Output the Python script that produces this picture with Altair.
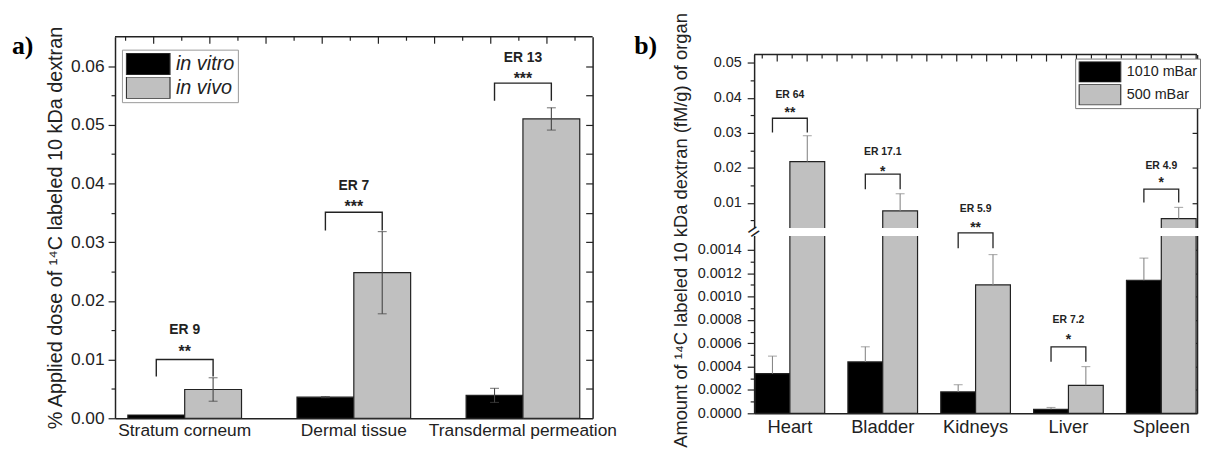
import altair as alt
import pandas as pd

# ---------------- panel a data ----------------
skin_layers = ["Stratum corneum", "Dermal tissue", "Transdermal permeation"]
conditions = ["in vitro", "in vivo"]
in_vitro_mean = [0.00055, 0.0036, 0.0039]
in_vitro_sd = [0.0, 0.0001, 0.0012]
in_vivo_mean = [0.0049, 0.0248, 0.0510]
in_vivo_sd = [0.0020, 0.0070, 0.0019]
er_text_a = ["ER 9", "ER 7", "ER 13"]
stars_a = ["**", "***", "***"]
er_pos_a = [0.0151, 0.0396, 0.0613]
stars_pos_a = [0.0119, 0.0367, 0.0585]
bracket_top_a = [0.0100, 0.0351, 0.0571]
bracket_leg_a = [0.0071, 0.0320, 0.0541]
y_domain_a = [0.0, 0.065]
y_ticks_a = [0.0, 0.005, 0.01, 0.015, 0.02, 0.025, 0.03, 0.035, 0.04, 0.045, 0.05, 0.055, 0.06]
y_ticks_a_right = [0.005, 0.01, 0.015, 0.02, 0.025, 0.03, 0.035, 0.04, 0.045, 0.05, 0.055, 0.06]
top_domain_a = [-0.688, 7.813]
top_major_a = [0.0, 1.0, 2.0, 3.0, 4.0, 5.0, 6.0, 7.0]
top_minor_a = [-0.5, 0.5, 1.5, 2.5, 3.5, 4.5, 5.5, 6.5, 7.5]

# ---------------- panel b data ----------------
organs = ["Heart", "Bladder", "Kidneys", "Liver", "Spleen"]
pressures = ["1010 mBar", "500 mBar"]
p1010_mean = [0.00034, 0.00044, 0.000183, 0.000034, 0.00114]
p1010_sd = [0.00015, 0.00013, 0.000062, 0.000016, 0.00019]
p500_mean = [0.0218, 0.0077, 0.0011, 0.00024, 0.0055]
p500_sd = [0.0074, 0.0049, 0.00026, 0.00016, 0.0032]
er_text_b = ["ER 64", "ER 17.1", "ER 5.9", "ER 7.2", "ER 4.9"]
stars_b = ["**", "*", "**", "*", "*"]
er_pos_b = [0.0407, 0.0244, 0.0082, 0.000798, 0.0205]
stars_pos_b = [0.0369, 0.0199, 0.0040, 0.000662, 0.0167]
bracket_top_b = [0.0342, 0.0182, 0.0020, 0.000569, 0.0139]
bracket_leg_b = [0.0301, 0.0139, 0.001414, 0.000442, 0.0101]
# broken axis: lower part 0 .. 0.00152, upper part 0.0028 .. 0.0524
axis_break_b = [0.00152, 0.0028]
y_domain_b = [0.0, 0.00152, 0.0028, 0.0524]
y_ticks_b = [0.0, 0.0001, 0.0002, 0.0003, 0.0004, 0.0005, 0.0006, 0.0007, 0.0008,
             0.0009, 0.001, 0.0011, 0.0012, 0.0013, 0.0014,
             0.005, 0.01, 0.015, 0.02, 0.025, 0.03, 0.035, 0.04, 0.045, 0.05]
y_ticks_b_right = [0.0002, 0.0004, 0.0006, 0.0008, 0.001, 0.0012, 0.0014,
                   0.01, 0.02, 0.03, 0.04, 0.05]
top_domain_b = [-0.7715, 14.03]
top_major_b = [0.0, 1.0, 2.0, 3.0, 4.0, 5.0, 6.0, 7.0, 8.0, 9.0, 10.0, 11.0, 12.0, 13.0, 14.0]
top_minor_b = [-0.5, 0.5, 1.5, 2.5, 3.5, 4.5, 5.5, 6.5, 7.5, 8.5, 9.5, 10.5, 11.5,
               12.5, 13.5]

DARK = "#222222"
FONT = "Liberation Sans"


def bar_frame(cats, groups, m0, s0, m1, s1, key_c, key_g):
    rows = []
    for i, c in enumerate(cats):
        rows.append({key_c: c, key_g: groups[0], "mean": m0[i], "sd": s0[i]})
        rows.append({key_c: c, key_g: groups[1], "mean": m1[i], "sd": s1[i]})
    df = pd.DataFrame(rows)
    df["lo"] = df["mean"] - df["sd"]
    df["hi"] = df["mean"] + df["sd"]
    return df


def bracket_frame(cats, groups, top, leg, key_c, key_g):
    rows = []
    for i, c in enumerate(cats):
        rows += [
            {key_c: c, key_g: groups[0], "y": leg[i], "k": 0},
            {key_c: c, key_g: groups[0], "y": top[i], "k": 1},
            {key_c: c, key_g: groups[1], "y": top[i], "k": 2},
            {key_c: c, key_g: groups[1], "y": leg[i], "k": 3},
        ]
    return pd.DataFrame(rows)


def minor_major(test, big, small):
    return alt.condition(test, alt.value(big), alt.value(small))


def top_frame(major, minor, domain, width, top):
    """Top border of the frame with inward major/minor ticks on a linear scale."""
    scale = alt.Scale(domain=domain, nice=False, zero=False)
    border = alt.Chart(pd.DataFrame({"t": [domain[0]]})).mark_rule(
        color=DARK, strokeWidth=1.5).encode(
        x=alt.value(0), x2=alt.value(width), y=alt.value(top))
    big = alt.Chart(pd.DataFrame({"t": major})).mark_rule(
        color=DARK, strokeWidth=1.2).encode(
        x=alt.X("t:Q", scale=scale, axis=None), y=alt.value(top), y2=alt.value(top + 7))
    small = alt.Chart(pd.DataFrame({"t": minor})).mark_rule(
        color=DARK, strokeWidth=1.2).encode(
        x=alt.X("t:Q", scale=scale, axis=None), y=alt.value(top), y2=alt.value(top + 4))
    return alt.layer(border, big, small)


def right_tick_layer(values, scale, width, size, z):
    axis = alt.Axis(orient="left", offset=-width, values=values, labels=False, title=None,
                    grid=False, tickSize=size, tickColor=DARK, tickWidth=1.2,
                    domainColor=DARK, domainWidth=1.5, zindex=z)
    return alt.Chart(pd.DataFrame({"v": values})).mark_point(opacity=0).encode(
        y=alt.Y("v:Q", scale=scale, axis=axis))


# ======================= PANEL A =======================
Wa, Ha = 482, 385
bars_a = bar_frame(skin_layers, conditions, in_vitro_mean, in_vitro_sd,
                   in_vivo_mean, in_vivo_sd, "layer", "cond")
err_a = bars_a[bars_a["sd"] > 0]
brk_a = bracket_frame(skin_layers, conditions, bracket_top_a, bracket_leg_a, "layer", "cond")
ann_a = pd.DataFrame({"layer": skin_layers, "er": er_text_a, "stars": stars_a,
                      "er_y": er_pos_a, "star_y": stars_pos_a})

xa_scale = alt.Scale(domain=skin_layers, paddingInner=0.328, paddingOuter=0.076)
xoff_a = alt.XOffset("cond:N", sort=conditions, scale=alt.Scale(domain=conditions))


def ya_scale():
    return alt.Scale(domain=y_domain_a, nice=False)


left_axis_a = alt.Axis(
    title="% Applied dose of ¹⁴C labeled 10 kDa dextran", titleFontSize=20,
    titleFontWeight="normal", titleColor=DARK, titlePadding=5,
    values=y_ticks_a, grid=False,
    labelExpr="round(datum.value*1000) % 10 === 0 ? format(datum.value, '.2f') : ''",
    tickSize=minor_major("round(datum.value*1000) % 10 === 0", 7, 4),
    labelFontSize=17.5, labelColor=DARK, labelPadding=4,
    domainColor=DARK, domainWidth=1.5, tickColor=DARK, tickWidth=1.2)
bottom_axis_a = alt.Axis(title=None, labelAngle=0, ticks=False, labelFontSize=17.5,
                         labelColor=DARK, labelPadding=3, labelLimit=0,
                         domainColor=DARK, domainWidth=1.5)


def xa():
    return alt.X("layer:N", sort=skin_layers, scale=xa_scale, axis=bottom_axis_a)


def ya(field):
    return alt.Y(field, scale=ya_scale(), axis=left_axis_a)


legend_a = alt.Legend(title=None, orient="none", legendX=7, legendY=13,
                      symbolType="M-1,-0.5H1V0.5H-1Z", symbolSize=1936, clipHeight=22,
                      symbolStrokeColor="#333333", symbolStrokeWidth=1.2,
                      labelFontSize=20, labelFontStyle="italic", labelColor=DARK,
                      labelOffset=5, padding=3.5, rowPadding=2,
                      strokeColor="#999999", fillColor="white")

a_bars = alt.Chart(bars_a).mark_bar(stroke=DARK, strokeWidth=1.2).encode(
    x=xa(), xOffset=xoff_a, y=ya("mean:Q"),
    fill=alt.Fill("cond:N", sort=conditions,
                  scale=alt.Scale(domain=conditions, range=["#000000", "#c0c0c0"]),
                  legend=legend_a))
a_err = alt.Chart(err_a).mark_rule(color="#444444", strokeWidth=1.1).encode(
    x=xa(), xOffset=xoff_a, y=ya("lo:Q"), y2="hi:Q")
a_cap_hi = alt.Chart(err_a).mark_tick(orient="horizontal", size=9, thickness=1.1,
                                      color="#444444").encode(
    x=xa(), xOffset=xoff_a, y=ya("hi:Q"))
a_cap_lo = alt.Chart(err_a).mark_tick(orient="horizontal", size=9, thickness=1.1,
                                      color="#444444").encode(
    x=xa(), xOffset=xoff_a, y=ya("lo:Q"))
a_brk = alt.Chart(brk_a).mark_line(color=DARK, strokeWidth=1.4).encode(
    x=xa(), xOffset=xoff_a, y=ya("y:Q"), detail="layer:N", order="k:Q")
a_er = alt.Chart(ann_a).mark_text(fontWeight="bold", fontSize=14, color=DARK).encode(
    x=xa(), y=ya("er_y:Q"), text="er:N")
a_star = alt.Chart(ann_a).mark_text(fontWeight="bold", fontSize=16, color=DARK, dy=4).encode(
    x=xa(), y=ya("star_y:Q"), text="stars:N")
a_label = alt.Chart(pd.DataFrame({"t": ["a)"]})).mark_text(
    font="Liberation Serif", fontWeight="bold", fontSize=26, align="left",
    baseline="middle", color="black").encode(
    x=alt.value(-104), y=alt.value(9.5), text="t:N")

inner_a = alt.layer(a_bars, a_err, a_cap_hi, a_cap_lo, a_brk, a_er, a_star, a_label)
panel_a = alt.layer(
    inner_a,
    top_frame(top_major_a, top_minor_a, top_domain_a, Wa, 0),
    right_tick_layer(y_ticks_a_right, ya_scale(), Wa, 7, 1),
).resolve_scale(x="independent", y="independent").properties(width=Wa, height=Ha)

# ======================= PANEL B =======================
# the view is as tall as panel a's; the axis frame starts TOPB px below its top
Wb, Hb, TOPB = 447, 380, 18
bars_b = bar_frame(organs, pressures, p1010_mean, p1010_sd, p500_mean, p500_sd,
                   "organ", "pres")
brk_b = bracket_frame(organs, pressures, bracket_top_b, bracket_leg_b, "organ", "pres")
ann_b = pd.DataFrame({"organ": organs, "er": er_text_b, "stars": stars_b,
                      "er_y": er_pos_b, "star_y": stars_pos_b})
gap_b = pd.DataFrame({"lo": [axis_break_b[0]], "hi": [axis_break_b[1]]})

xb_scale = alt.Scale(domain=organs, paddingInner=0.25, paddingOuter=0.01)
xoff_b = alt.XOffset("pres:N", sort=pressures, scale=alt.Scale(domain=pressures))


def yb_scale():
    return alt.Scale(domain=y_domain_b, range=[Hb, Hb - 179, Hb - 187, TOPB],
                     nice=False, zero=False)


major_b = ("(datum.value < 0.002 && round(datum.value*10000) % 2 === 0) || "
           "(datum.value >= 0.002 && round(datum.value*1000) % 10 === 0)")
left_axis_b = alt.Axis(
    title="Amount of ¹⁴C labeled 10 kDa dextran (fM/g) of organ", titleFontSize=18.5,
    titleFontWeight="normal", titleColor=DARK, titleX=-64, titleY=195,
    values=y_ticks_b, grid=False,
    labelExpr=("(" + major_b + ") ? (datum.value < 0.002 ? format(datum.value, '.4f') "
               ": format(datum.value, '.2f')) : ''"),
    tickSize=minor_major(major_b, 7, 4),
    labelFontSize=14.5, labelColor=DARK, labelPadding=6,
    domainColor=DARK, domainWidth=1.5, tickColor=DARK, tickWidth=1.2)
bottom_axis_b = alt.Axis(title=None, labelAngle=0, ticks=False, labelFontSize=18.5,
                         labelColor=DARK, labelPadding=4, labelLimit=0,
                         domainColor=DARK, domainWidth=1.5)


def xb():
    return alt.X("organ:N", sort=organs, scale=xb_scale, axis=bottom_axis_b)


def yb(field):
    return alt.Y(field, scale=yb_scale(), axis=left_axis_b)


legend_b = alt.Legend(title=None, orient="none", legendX=324, legendY=22,
                      symbolType="M-1,-0.5H1V0.5H-1Z", symbolSize=1764, clipHeight=21,
                      symbolStrokeColor="#333333", symbolStrokeWidth=1.2,
                      labelFontSize=14.5, labelColor=DARK, labelOffset=5, padding=3,
                      rowPadding=2, strokeColor="#777777", fillColor="white")

b_bars = alt.Chart(bars_b).mark_bar(stroke=DARK, strokeWidth=1.2).encode(
    x=xb(), xOffset=xoff_b, y=yb("mean:Q"),
    fill=alt.Fill("pres:N", sort=pressures,
                  scale=alt.Scale(domain=pressures, range=["#000000", "#c0c0c0"]),
                  legend=legend_b))
b_err = alt.Chart(bars_b).mark_rule(color="#888888", strokeWidth=1.1).encode(
    x=xb(), xOffset=xoff_b, y=yb("mean:Q"), y2="hi:Q")
b_cap = alt.Chart(bars_b).mark_tick(orient="horizontal", size=9, thickness=1.1,
                                    color="#888888").encode(
    x=xb(), xOffset=xoff_b, y=yb("hi:Q"))
b_gap = alt.Chart(gap_b).mark_rect(fill="white").encode(
    x=alt.value(-5), x2=alt.value(Wb + 5), y=yb("lo:Q"), y2="hi:Q")
b_brk = alt.Chart(brk_b).mark_line(color=DARK, strokeWidth=1.3).encode(
    x=xb(), xOffset=xoff_b, y=yb("y:Q"), detail="organ:N", order="k:Q")
b_er = alt.Chart(ann_b).mark_text(fontWeight="bold", fontSize=10.5, color=DARK).encode(
    x=xb(), y=yb("er_y:Q"), text="er:N")
b_star = alt.Chart(ann_b).mark_text(fontWeight="bold", fontSize=14, color=DARK, dy=4).encode(
    x=xb(), y=yb("star_y:Q"), text="stars:N")
b_label = alt.Chart(pd.DataFrame({"t": ["b)"]})).mark_text(
    font="Liberation Serif", fontWeight="bold", fontSize=26, align="left",
    baseline="middle", color="black").encode(
    x=alt.value(-121), y=alt.value(9.5), text="t:N")
b_break = alt.Chart(pd.DataFrame({"t": ["="]})).mark_text(
    fontSize=20, angle=325, align="center", baseline="middle", color=DARK).encode(
    x=alt.value(0), y=alt.value(Hb - 183), text="t:N")

inner_b = alt.layer(b_bars, b_err, b_cap, b_gap, b_brk, b_er, b_star, b_label, b_break)
panel_b = alt.layer(
    inner_b,
    top_frame(top_major_b, top_minor_b, top_domain_b, Wb, TOPB),
    right_tick_layer(y_ticks_b_right, yb_scale(), Wb, 5, 0),
).resolve_scale(x="independent", y="independent").properties(width=Wb, height=Hb)

chart = alt.hconcat(panel_a, panel_b, spacing=17).resolve_scale(
    fill="independent", xOffset="independent").properties(
    padding={"left": 4, "top": 2, "right": 0, "bottom": 0}).configure(
    font=FONT).configure_view(stroke=None)

chart.save("out.html", embed_options={"renderer": "svg", "actions": False})
